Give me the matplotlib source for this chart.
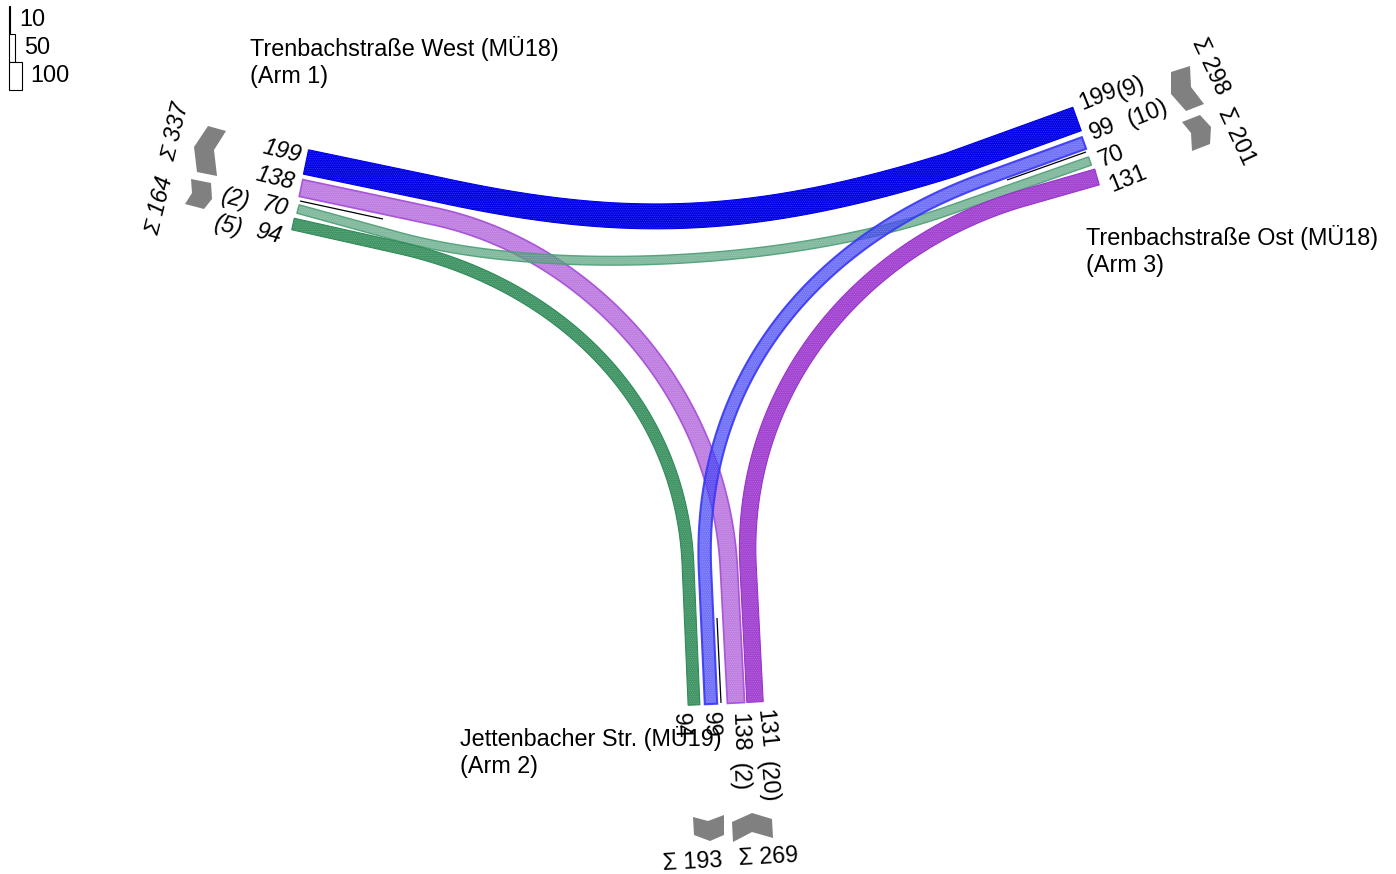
import numpy as np
import matplotlib
matplotlib.use('Agg')
import matplotlib.pyplot as plt
from matplotlib.patches import Polygon, Rectangle

plt.rcParams['font.family'] = ['Liberation Sans', 'DejaVu Sans']
plt.rcParams['hatch.linewidth'] = 0.4

# traffic volumes per movement
volumes = [199, 138, 70, 94, 99, 131]
colors = ['#0000e6', '#a64dd6', '#4f9f78', '#2e8b57', '#3a3af5', '#9a32cd']
alphas = [1.0, 0.72, 0.72, 0.92, 0.72, 0.92]
edge_widths = [0.8, 1.2, 1.0, 0.8, 1.5, 0.8]

# centre line of each movement in picture pixels:
# arm end, start of bend, two bezier handles, end of bend, other arm end
paths = [
    [(306, 162), (440, 190), (620, 229), (748, 228), (950, 165), (1077, 119)],
    [(301, 188), (433, 216), (586, 248), (720, 390), (729, 570), (736, 703)],
    [(298, 209), (400, 237), (553, 278), (797, 264), (950, 210), (1090, 161)],
    [(293, 224), (400, 248), (560, 284), (681, 402), (688, 565), (694, 705)],
    [(1084, 143), (985, 179), (815, 240), (697, 380), (705, 570), (711, 704)],
    [(1097, 177), (1020, 199), (862, 246), (740, 388), (748, 565), (755, 702)],
]

# heavy vehicle marker lines
hv_x = [[300, 383], [1007, 1086], [717, 721]]
hv_y = [[201, 219], [180, 152], [618, 703]]

# block arrows with the arm totals
arrow_shapes = [
    [(208, 126), (226, 131), (214, 150), (217, 176), (197, 172), (194, 147)],
    [(191, 179), (211, 183), (212, 199), (204, 209), (185, 204), (192, 193)],
    [(1171, 72), (1190, 66), (1191, 87), (1204, 104), (1186, 111), (1171, 94)],
    [(1182, 122), (1200, 115), (1211, 127), (1210, 144), (1192, 151), (1191, 133)],
    [(693, 817), (708, 821), (724, 815), (724, 835), (710, 841), (694, 835)],
    [(732, 822), (752, 813), (772, 819), (773, 838), (752, 832), (733, 842)],
]

# text, x, y, rotation, italic
labels = [
    ('199', 282, 151, -14, True), ('138', 275, 178, -14, True),
    ('70', 275, 207, -14, True), ('94', 268, 234, -14, True),
    ('(2)', 236, 199, -14, True), ('(5)', 229, 226, -14, True),
    ('Σ 337', 175, 132, 76, True), ('Σ 164', 159, 206, 76, True),
    ('199', 1098, 97, 22, False), ('(9)', 1131, 88, 22, False),
    ('99', 1102, 129, 22, False), ('(10)', 1148, 113, 22, False),
    ('70', 1111, 156, 22, False), ('131', 1128, 179, 22, False),
    ('Σ 298', 1211, 66, -65, False), ('Σ 201', 1237, 136, -65, False),
    ('94', 681, 726, -88, False), ('99', 711, 725, -88, False),
    ('138', 739, 732, -88, False), ('131', 766, 729, -84, False),
    ('(2)', 739, 777, -88, False), ('(20)', 768, 782, -85, False),
    ('Σ 193', 692, 862, 3, False), ('Σ 269', 768, 857, 3, False),
]

arm_names = [
    ('Trenbachstraße West (MÜ18)\n(Arm 1)', 250, 62),
    ('Trenbachstraße Ost (MÜ18)\n(Arm 3)', 1086, 251),
    ('Jettenbacher Str. (MÜ19)\n(Arm 2)', 460, 752),
]

legend_values = [10, 50, 100]
legend_y = [6, 34, 62]
px_per_unit = 0.125


def centre_line(ctrl):
    p = np.array(ctrl, dtype=float)
    t = np.linspace(0, 1, 200)[:, None]
    bend = (1-t)**3*p[1] + 3*(1-t)**2*t*p[2] + 3*(1-t)*t**2*p[3] + t**3*p[4]
    return np.vstack([p[0], bend, p[5]])


def ribbon(ctrl, width):
    pts = centre_line(ctrl)
    d = np.gradient(pts, axis=0)
    # the first and last steps are long straights, keep their direction
    d[0] = pts[1] - pts[0]
    d[-1] = pts[-1] - pts[-2]
    n = np.column_stack([-d[:, 1], d[:, 0]]) / np.linalg.norm(d, axis=1)[:, None]
    return np.vstack([pts + n*width/2, (pts - n*width/2)[::-1]])


fig = plt.figure(figsize=(13.96, 8.74), dpi=100)
ax = fig.add_axes([0, 0, 1, 1])
ax.set_xlim(0, 1396)
ax.set_ylim(874, 0)
ax.axis('off')

for ctrl, vol, col, a, ew in zip(paths, volumes, colors, alphas, edge_widths):
    poly = ribbon(ctrl, vol*px_per_unit)
    ax.add_patch(Polygon(poly, closed=True, facecolor=col, edgecolor='none', alpha=a))
    # dotted screen of the original fill
    ax.add_patch(Polygon(poly, closed=True, fill=False, edgecolor='white', hatch='.........', lw=0, alpha=0.25))
    ax.add_patch(Polygon(poly, closed=True, fill=False, edgecolor=col, lw=ew, alpha=min(a+0.2, 1)))

for xs, ys in zip(hv_x, hv_y):
    ax.plot(xs, ys, color='black', lw=0.9, solid_capstyle='butt')

for shape in arrow_shapes:
    ax.add_patch(Polygon(shape, closed=True, facecolor='#808080', edgecolor='none'))

for txt, x, y, rot, ital in labels:
    ax.text(x, y, txt, rotation=rot, fontsize=16.8, ha='center', va='center',
            style='italic' if ital else 'normal', rotation_mode='anchor')

for txt, x, y in arm_names:
    ax.text(x, y, txt, fontsize=16.8, ha='left', va='center', linespacing=1.2)

# volume scale in the corner
for val, y0 in zip(legend_values, legend_y):
    w = val*px_per_unit
    ax.add_patch(Rectangle((9, y0), w, 27.5, facecolor='white', edgecolor='black', lw=0.8))
    ax.text(9 + w + 9, y0 + 14, str(val), fontsize=16.8, ha='left', va='center')

fig.savefig('out.png', dpi=100)
